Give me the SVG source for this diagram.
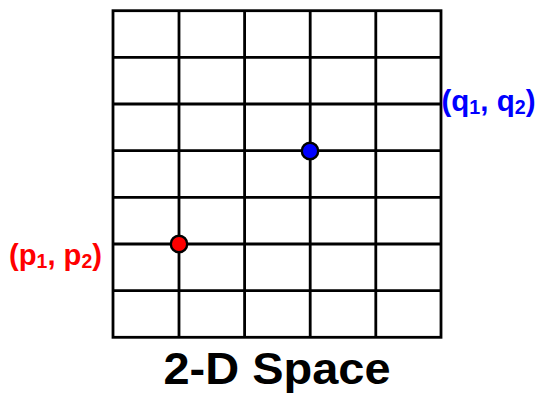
<svg xmlns="http://www.w3.org/2000/svg" width="538" height="396" viewBox="0 0 538 396">
<style>
.g{stroke:#000;stroke-width:2.8;fill:none}
.lbl{font-family:"Liberation Sans",Arial,sans-serif;font-weight:bold;font-size:30px}
.sub{font-size:20px}
.title{font-family:"Liberation Sans",Arial,sans-serif;font-weight:bold;font-size:45px;fill:#000}
.pt{stroke:#000;stroke-width:2.4}
</style>
<rect width="538" height="396" fill="#fff"/>
<g id="grid" class="g">
<rect x="113" y="10.7" width="328" height="326.6"/>
<path d="M179 10.7V337.3M244.6 10.7V337.3M310.2 10.7V337.3M375.8 10.7V337.3M113 57.3H441M113 104H441M113 150.7H441M113 197.3H441M113 244H441M113 290.7H441"/>
</g>
<g id="p">
<circle class="pt" cx="179" cy="244" r="8.2" fill="#f00"/>
<text class="lbl" x="9" y="265.4" fill="#f00" textLength="93" lengthAdjust="spacingAndGlyphs">(p<tspan class="sub" dy="2.5">1</tspan><tspan dy="-2.5">, p</tspan><tspan class="sub" dy="2.5">2</tspan><tspan dy="-2.5">)</tspan></text>
</g>
<g id="q">
<circle class="pt" cx="310" cy="151" r="8.2" fill="#00f"/>
<text class="lbl" x="441.5" y="111" fill="#00f" textLength="94" lengthAdjust="spacingAndGlyphs">(q<tspan class="sub" dy="2.5">1</tspan><tspan dy="-2.5">, q</tspan><tspan class="sub" dy="2.5">2</tspan><tspan dy="-2.5">)</tspan></text>
</g>
<text class="title" x="277" y="384" text-anchor="middle" textLength="227" lengthAdjust="spacingAndGlyphs">2-D Space</text>
</svg>
